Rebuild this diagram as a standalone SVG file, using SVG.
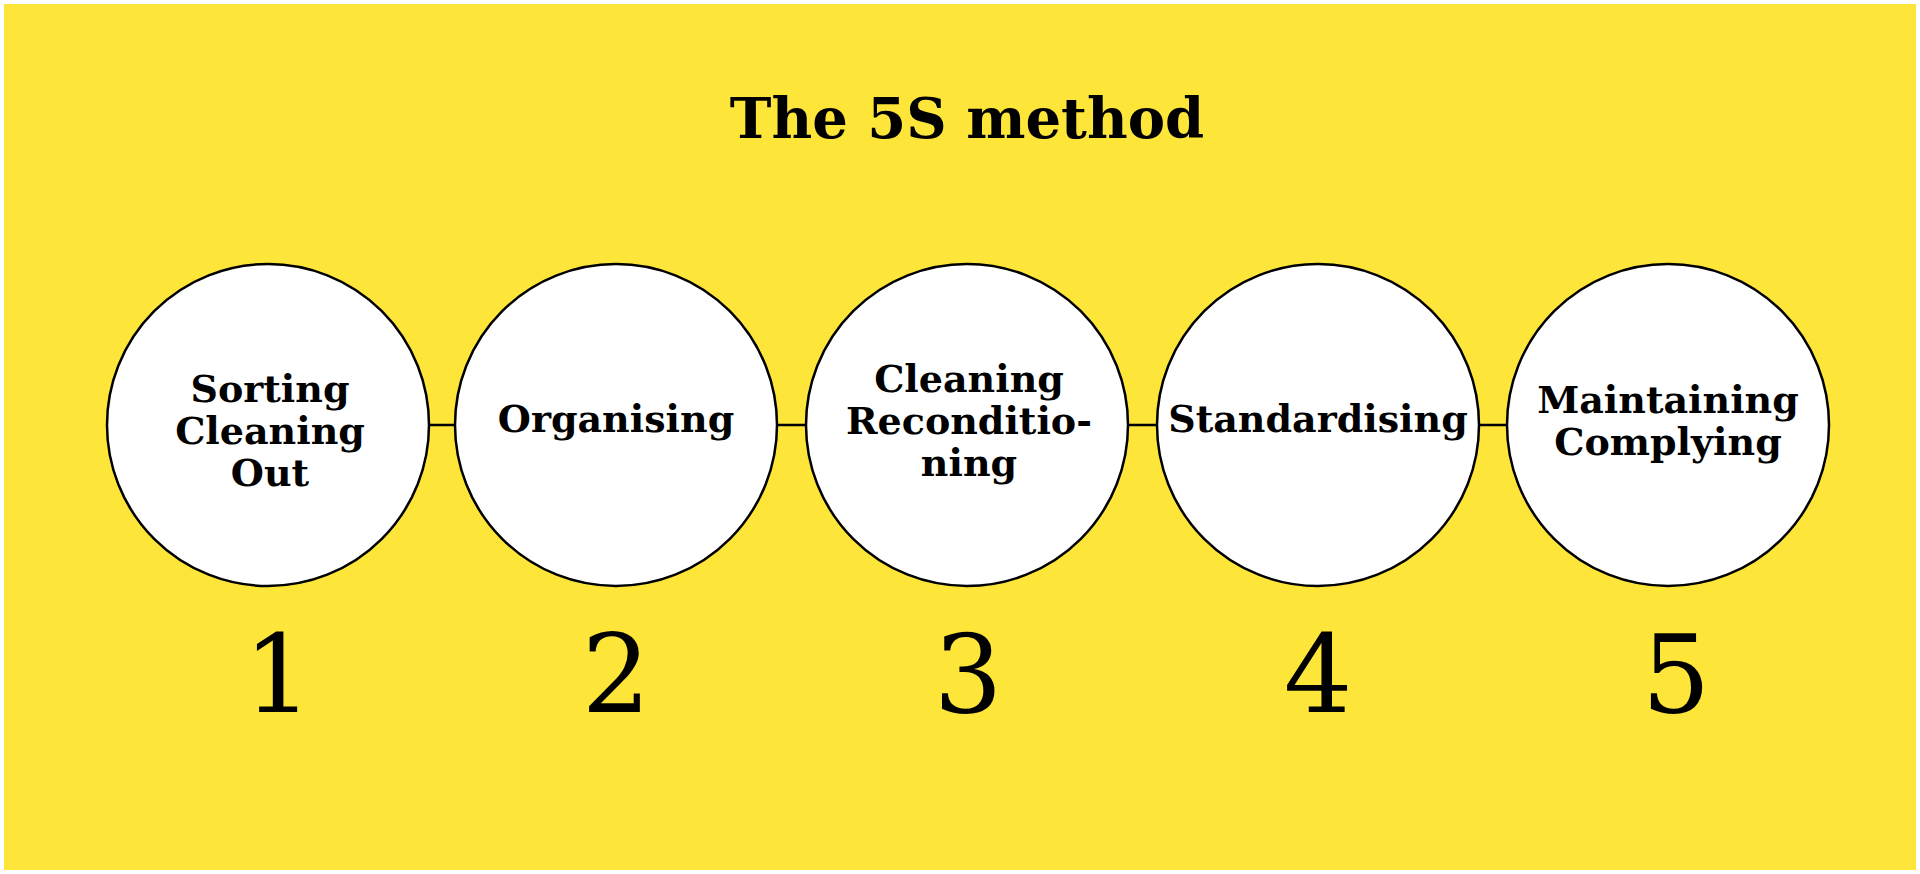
<svg xmlns="http://www.w3.org/2000/svg" width="1920" height="874" viewBox="0 0 1920 874">
<style>
.n{fill:#fff;stroke:#000;stroke-width:2.5}
.l{font-family:"DejaVu Serif",serif;font-weight:bold;font-size:38px;text-anchor:middle;fill:#000}
.d{font-family:"DejaVu Serif",serif;font-weight:normal;font-size:108px;text-anchor:middle;fill:#000}
#c line{stroke:#000;stroke-width:2.5}
</style>
<rect width="1920" height="874" fill="#fff"/>
<rect x="4" y="4" width="1912" height="866" fill="#FDE53A"/>
<text x="967" y="138" style="font-family:'DejaVu Serif',serif;font-weight:bold;font-size:56px;text-anchor:middle">The 5S method</text>
<g id="c">
<line x1="430" y1="425" x2="454" y2="425"/>
<line x1="778" y1="425" x2="805" y2="425"/>
<line x1="1129" y1="425" x2="1156" y2="425"/>
<line x1="1480" y1="425" x2="1506" y2="425"/>
</g>
<g id="n1"><circle class="n" cx="268" cy="425" r="161"/>
<text class="l" x="270" y="402">Sorting</text><text class="l" x="270" y="444">Cleaning</text><text class="l" x="270" y="486">Out</text>
<text class="d" x="278" y="712">1</text></g>
<g id="n2"><circle class="n" cx="616" cy="425" r="161"/>
<text class="l" x="616" y="432">Organising</text>
<text class="d" x="616" y="712">2</text></g>
<g id="n3"><circle class="n" cx="967" cy="425" r="161"/>
<text class="l" x="969" y="392">Cleaning</text><text class="l" x="969" y="434">Reconditio-</text><text class="l" x="969" y="476">ning</text>
<text class="d" x="968" y="712">3</text></g>
<g id="n4"><circle class="n" cx="1318" cy="425" r="161"/>
<text class="l" x="1318" y="432">Standardising</text>
<text class="d" x="1318" y="712">4</text></g>
<g id="n5"><circle class="n" cx="1668" cy="425" r="161"/>
<text class="l" x="1668" y="413">Maintaining</text><text class="l" x="1668" y="455">Complying</text>
<text class="d" x="1676" y="712">5</text></g>
</svg>
